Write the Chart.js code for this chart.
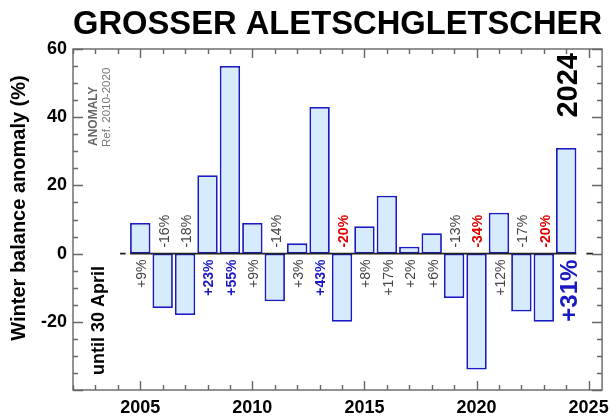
<!DOCTYPE html>
<html>
<head>
<meta charset="utf-8">
<script src="https://cdn.jsdelivr.net/npm/chart.js@4.4.1/dist/chart.umd.min.js"></script>
<style>
  html, body { margin: 0; background: #fff; }
  canvas { display: block; }
</style>
</head>
<body>
<canvas id="chart" width="616" height="420"></canvas>
<script>
/* Grosser Aletschgletscher — winter balance anomaly until 30 April */

const years   = [2005, 2006, 2007, 2008, 2009, 2010, 2011, 2012, 2013, 2014,
                 2015, 2016, 2017, 2018, 2019, 2020, 2021, 2022, 2023, 2024];
const anomaly = [9, -16, -18, 23, 55, 9, -14, 3, 43, -20,
                 8, 17, 2, 6, -13, -34, 12, -17, -20, 31];
const yTicks  = [-20, 0, 20, 40, 60];
const xTicks  = [2005, 2010, 2015, 2020, 2025];
const zeroSegs = [[2004.1, 2004.35], [2004.55, 2024.45], [2024.9, 2025.2]];

const BLUE = '#1a1ac4', RED = '#e00000', GREY = '#444', FILL = '#d6ebfb', AXIS = '#666';
const FONT = '"Liberation Sans", Arial, Helvetica, sans-serif';

const zeroData = [];
zeroSegs.forEach(([a, b]) => {
  zeroData.push({ x: a, y: 0 }, { x: b, y: 0 }, { x: b + 0.01, y: null });
});

/* box + inward ticks on all four sides */
const frame = {
  id: 'frame',
  afterDatasetsDraw(chart) {
    const { ctx, chartArea: a, scales: { x, y } } = chart;
    ctx.save();
    ctx.strokeStyle = AXIS;
    ctx.lineWidth = 1.4;
    ctx.strokeRect(a.left, a.top, a.right - a.left, a.bottom - a.top);
    ctx.beginPath();
    for (let v = Math.ceil(x.min); v <= x.max; v++) {
      const px = Math.round(x.getPixelForValue(v)) + 0.5;
      const len = v % 5 === 0 ? 9 : 5;
      ctx.moveTo(px, a.bottom); ctx.lineTo(px, a.bottom - len);
      ctx.moveTo(px, a.top); ctx.lineTo(px, a.top + len);
    }
    for (let v = Math.ceil(y.min / 5) * 5; v <= y.max; v += 5) {
      const py = Math.round(y.getPixelForValue(v)) + 0.5;
      const len = v % 20 === 0 ? 10 : 5;
      ctx.moveTo(a.left, py); ctx.lineTo(a.left + len, py);
      ctx.moveTo(a.right, py); ctx.lineTo(a.right - len, py);
    }
    ctx.stroke();
    ctx.restore();
  }
};

/* rotated % labels next to the zero line */
const barLabels = {
  id: 'barLabels',
  afterDatasetsDraw(chart) {
    const { ctx, scales: { x, y } } = chart;
    const y0 = y.getPixelForValue(0);
    years.forEach((yr, i) => {
      const v = anomaly[i];
      const last = i === years.length - 1;
      const txt = (v > 0 ? '+' : '') + v + '%';
      let color = GREY, weight = 'normal', size = 14;
      if (v >= 20) { color = BLUE; weight = 'bold'; }
      if (v <= -20) { color = RED; weight = 'bold'; }
      if (last) { size = 24; weight = 'bold'; color = BLUE; }
      ctx.save();
      ctx.translate(x.getPixelForValue(yr) + (last ? 4 : 2), v > 0 ? y0 + 6 : y0 - 6);
      ctx.rotate(-Math.PI / 2);
      ctx.font = `${weight} ${size}px ${FONT}`;
      ctx.fillStyle = color;
      ctx.textAlign = v > 0 ? 'right' : 'left';
      ctx.textBaseline = 'middle';
      ctx.fillText(txt, 0, 0);
      ctx.restore();
    });
  }
};

/* free text: axis title and notes inside the plot */
const notes = {
  id: 'notes',
  afterDraw(chart) {
    const { ctx, chartArea: a } = chart;
    const put = (txt, px, py, font, color, align) => {
      ctx.save();
      ctx.translate(px, py);
      ctx.rotate(-Math.PI / 2);
      ctx.font = font;
      ctx.fillStyle = color;
      ctx.textAlign = align || 'left';
      ctx.textBaseline = 'middle';
      ctx.fillText(txt, 0, 0);
      ctx.restore();
    };
    put('Winter balance anomaly (%)', 19, a.top + 159, `bold 20px ${FONT}`, '#000', 'center');
    put('ANOMALY', a.left + 21, a.top + 97, `bold 12px ${FONT}`, '#666');
    put('Ref. 2010-2020', a.left + 34, a.top + 98, `11.5px ${FONT}`, '#777');
    put('until 30 April', a.left + 26, a.bottom - 15, `bold 18px ${FONT}`, '#000');
    put('2024', a.right - 33, a.top + 4, `bold 29px ${FONT}`, '#000', 'right');
  }
};

new Chart(document.getElementById('chart'), {
  type: 'bar',
  data: {
    datasets: [
      {
        type: 'line', data: zeroData, borderColor: '#222', borderWidth: 1.6,
        pointRadius: 0, spanGaps: false, order: 0
      },
      {
        type: 'bar', data: years.map((yr, i) => ({ x: yr, y: anomaly[i] })),
        backgroundColor: FILL, borderColor: BLUE, borderWidth: 1.8, borderSkipped: false,
        categoryPercentage: 1, barPercentage: 0.91, order: 1
      }
    ]
  },
  options: {
    responsive: false,
    animation: false,
    devicePixelRatio: 1,
    layout: { padding: { left: 0, right: 8, top: 0, bottom: 0 } },
    plugins: {
      legend: { display: false },
      tooltip: { enabled: false },
      title: {
        display: true, text: 'GROSSER ALETSCHGLETSCHER', fullSize: false, align: 'center',
        color: '#000', font: { family: FONT, size: 33, weight: 'bold', lineHeight: 1 },
        padding: { top: 8, bottom: 8 }
      }
    },
    scales: {
      x: {
        type: 'linear', min: 2002, max: 2025.6, offset: false,
        grid: { display: false, drawTicks: false, offset: false }, border: { display: false },
        afterBuildTicks: s => { s.ticks = xTicks.map(v => ({ value: v })); },
        afterFit: s => { s.height = 30; },
        ticks: {
          color: '#000', padding: 7, maxRotation: 0,
          font: { family: FONT, size: 18, weight: 'bold' },
          callback: v => String(v)
        }
      },
      y: {
        min: -40, max: 60,
        grid: { display: false, drawTicks: false }, border: { display: false },
        afterBuildTicks: s => { s.ticks = yTicks.map(v => ({ value: v })); },
        afterFit: s => { s.width = 73; },
        ticks: {
          color: '#000', padding: 6,
          font: { family: FONT, size: 18, weight: 'bold' }
        }
      }
    }
  },
  plugins: [frame, barLabels, notes]
});
</script>
</body>
</html>
